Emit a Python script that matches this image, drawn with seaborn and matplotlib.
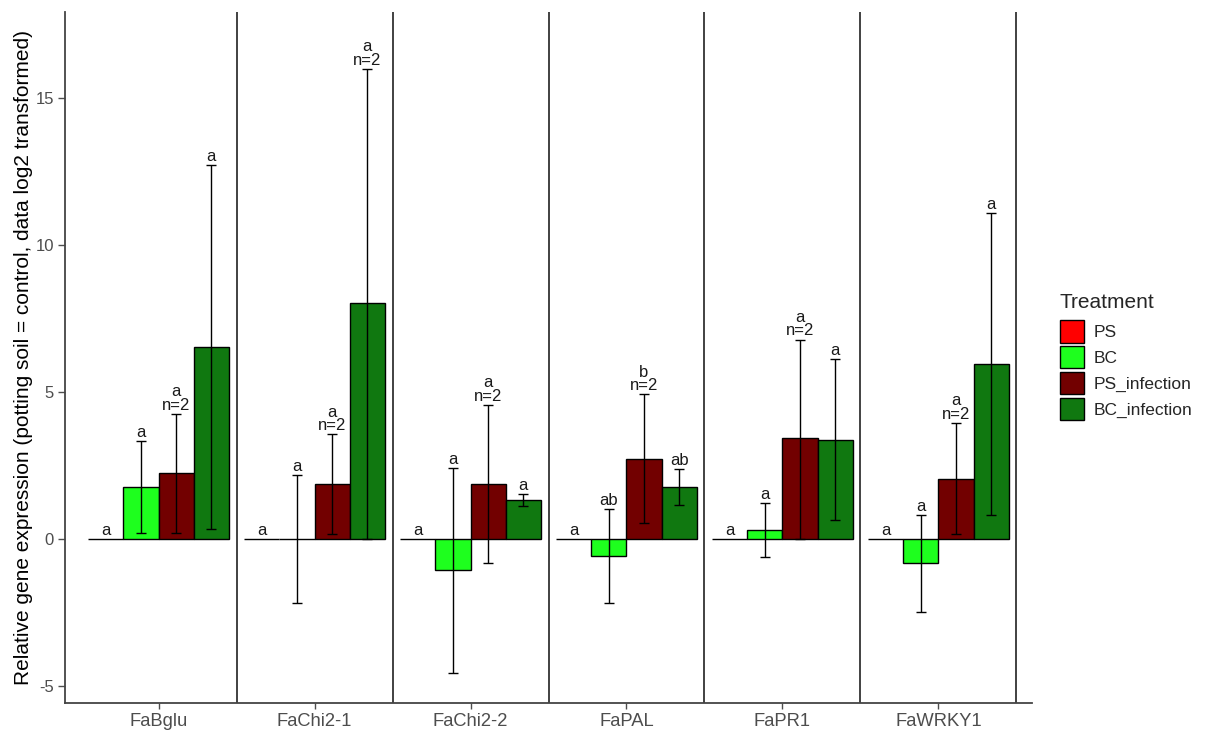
import numpy as np
import pandas as pd
import matplotlib
matplotlib.use("Agg")
import matplotlib.pyplot as plt
from matplotlib.patches import Patch
import seaborn as sns

genes = ["FaBglu", "FaChi2-1", "FaChi2-2", "FaPAL", "FaPR1", "FaWRKY1"]
treatments = ["PS", "BC", "PS_infection", "BC_infection"]

# mean log2 relative expression per treatment (one value per gene)
mean_ps = [0.0, 0.0, 0.0, 0.0, 0.0, 0.0]
mean_bc = [1.78, 0.0, -1.05, -0.57, 0.31, -0.82]
mean_ps_inf = [2.26, 1.86, 1.86, 2.74, 3.45, 2.04]
mean_bc_inf = [6.53, 8.02, 1.33, 1.76, 3.37, 5.95]

# error bar limits
low_ps = [0.0, 0.0, 0.0, 0.0, 0.0, 0.0]
high_ps = [0.0, 0.0, 0.0, 0.0, 0.0, 0.0]
low_bc = [0.19, -2.19, -4.55, -2.17, -0.62, -2.47]
high_bc = [3.34, 2.17, 2.41, 1.02, 1.22, 0.82]
low_ps_inf = [0.22, 0.16, -0.83, 0.55, 0.0, 0.16]
high_ps_inf = [4.27, 3.56, 4.56, 4.93, 6.79, 3.95]
low_bc_inf = [0.33, 0.0, 1.12, 1.16, 0.65, 0.82]
high_bc_inf = [12.74, 16.01, 1.52, 2.38, 6.12, 11.09]

# significance letters
let_ps = ["a", "a", "a", "a", "a", "a"]
let_bc = ["a", "a", "a", "ab", "a", "a"]
let_ps_inf = ["a\nn=2", "a\nn=2", "a\nn=2", "b\nn=2", "a\nn=2", "a\nn=2"]
let_bc_inf = ["a", "a\nn=2", "a", "ab", "a", "a"]

colors = {"PS": "#FF0000", "BC": "#1EFF1E",
          "PS_infection": "#720000", "BC_infection": "#107810"}

means = [mean_ps, mean_bc, mean_ps_inf, mean_bc_inf]
lows = [low_ps, low_bc, low_ps_inf, low_bc_inf]
highs = [high_ps, high_bc, high_ps_inf, high_bc_inf]
letters = [let_ps, let_bc, let_ps_inf, let_bc_inf]

rows = []
for t, m in zip(treatments, means):
    for g, v in zip(genes, m):
        rows.append({"Gene": g, "Treatment": t, "value": v})
df = pd.DataFrame(rows)

sns.set_theme(style="white")
plt.rcParams["font.family"] = ["Liberation Sans", "DejaVu Sans"]
plt.rcParams["axes.unicode_minus"] = False

fig = plt.figure(figsize=(12.08, 7.30), dpi=100)
ax = fig.add_axes([65 / 1208, 1 - 703 / 730, (1032 - 65) / 1208, (703 - 12) / 730])

sns.barplot(data=df, x="Gene", y="value", hue="Treatment", order=genes,
            hue_order=treatments, palette=colors, errorbar=None, width=0.9,
            edgecolor="black", linewidth=1.0, saturation=1, legend=False, ax=ax,
            zorder=2)

n = len(treatments)
bw = 0.9 / n
for i, t in enumerate(treatments):
    offs = -0.45 + bw * (i + 0.5)
    xs = np.arange(len(genes)) + offs
    m = np.array(means[i])
    lo = np.array(lows[i])
    hi = np.array(highs[i])
    has_err = hi > lo
    ax.errorbar(xs[has_err], m[has_err],
                yerr=[m[has_err] - lo[has_err], hi[has_err] - m[has_err]],
                fmt="none", ecolor="black", elinewidth=1.0, capsize=3.5,
                capthick=1.0, zorder=3)
    for x, top, lab in zip(xs, hi, letters[i]):
        ax.annotate(lab, (x, top), xytext=(0, 0.8), textcoords="offset points",
                    ha="center", va="bottom", fontsize=12, color="#1A1A1A",
                    linespacing=0.88, zorder=4)

for xv in np.arange(0.5, len(genes), 1.0):
    ax.axvline(xv, color="#333333", lw=1.3, zorder=1)

ax.set_xlim(-0.6, len(genes) - 0.4)
ax.set_ylim(-5.58, 17.94)
ax.set_yticks([-5, 0, 5, 10, 15])
ax.set_xlabel("")
ax.set_ylabel("Relative gene expression (potting soil = control, data log2 transformed)",
              fontsize=15, color="black", labelpad=2)
ax.tick_params(axis="x", colors="#4D4D4D", labelsize=13.2, length=4.5, width=1,
               direction="out", bottom=True, pad=3)
ax.tick_params(axis="y", colors="#4D4D4D", labelsize=12, length=5, width=1,
               direction="out", left=True, pad=3)
for lbl in ax.get_xticklabels() + ax.get_yticklabels():
    lbl.set_color("#4D4D4D")
for s in ["top", "right"]:
    ax.spines[s].set_visible(False)
for s in ["left", "bottom"]:
    ax.spines[s].set_color("#444444")
    ax.spines[s].set_linewidth(1.3)

handles = [Patch(facecolor=colors[t], edgecolor="black", linewidth=1.0) for t in treatments]
leg = fig.legend(handles, treatments, title="Treatment", loc="upper left",
                 bbox_to_anchor=(1060 / 1208, 1 - 293 / 730), frameon=False,
                 fontsize=12.5, title_fontsize=15, handlelength=1.38,
                 handleheight=1.6, labelspacing=0.2, handletextpad=0.55,
                 borderpad=0.0, borderaxespad=0.0)
leg._legend_box.align = "left"
leg._legend_box.sep = 6

fig.savefig("out.png", dpi=100, facecolor="white")
